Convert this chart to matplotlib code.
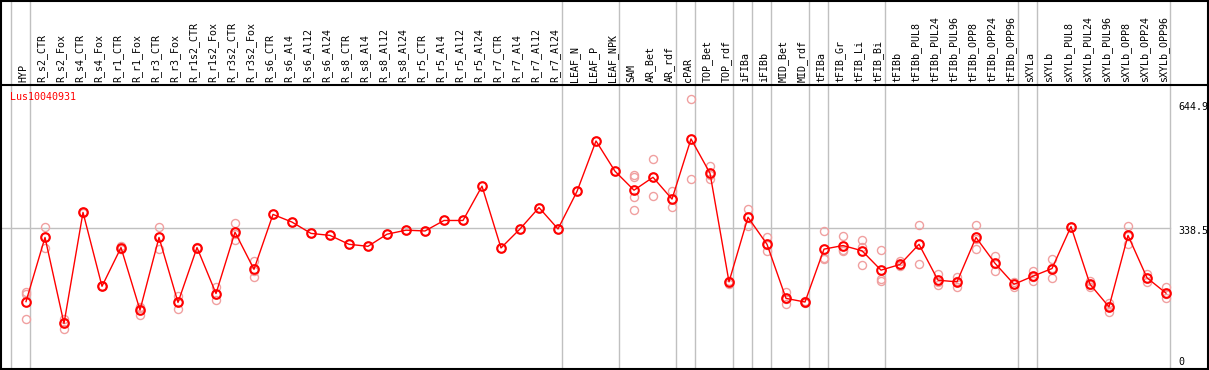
import matplotlib
matplotlib.use("Agg")
import matplotlib.pyplot as plt
from matplotlib.lines import Line2D

samples = ["HYP", "R_s2_CTR", "R_s2_Fox", "R_s4_CTR", "R_s4_Fox", "R_r1_CTR", "R_r1_Fox",
           "R_r3_CTR", "R_r3_Fox", "R_r1s2_CTR", "R_r1s2_Fox", "R_r3s2_CTR", "R_r3s2_Fox",
           "R_s6_CTR", "R_s6_Al4", "R_s6_Al12", "R_s6_Al24", "R_s8_CTR", "R_s8_Al4",
           "R_s8_Al12", "R_s8_Al24", "R_r5_CTR", "R_r5_Al4", "R_r5_Al12", "R_r5_Al24",
           "R_r7_CTR", "R_r7_Al4", "R_r7_Al12", "R_r7_Al24", "LEAF_N", "LEAF_P", "LEAF_NPK",
           "SAM", "AR_Bet", "AR_rdf", "cPAR", "TOP_Bet", "TOP_rdf", "iFIBa", "iFIBb",
           "MID_Bet", "MID_rdf", "tFIBa", "tFIB_Gr", "tFIB_Li", "tFIB_Bi", "tFIBb",
           "tFIBb_PUL8", "tFIBb_PUL24", "tFIBb_PUL96", "tFIBb_OPP8", "tFIBb_OPP24",
           "tFIBb_OPP96", "sXYLa", "sXYLb", "sXYLb_PUL8", "sXYLb_PUL24", "sXYLb_PUL96",
           "sXYLb_OPP8", "sXYLb_OPP24", "sXYLb_OPP96"]

means = [157, 316, 103, 378, 195, 291, 136, 316, 155, 291, 177, 329, 237,
         373, 354, 326, 321, 299, 294, 324, 334, 332, 358, 358, 443,
         290, 337, 390, 337, 430, 555, 480,
         433, 465, 411, 560, 475, 206, 366, 299,
         165, 156, 287, 296, 283, 235, 249,
         299, 210, 206, 316, 252, 200, 220, 239, 343, 200, 144, 321, 216, 178]

replicates = [[182, 175, 113], [341, 289, 318], [113, 90, 106], [380, 376, 378],
              [195, 195, 195], [296, 288, 288], [144, 124, 140], [343, 287, 318],
              [172, 138, 155], [291, 289, 293], [193, 162, 175], [352, 309, 325],
              [258, 219, 234], [373], [354], [326], [321], [299], [294], [324], [334],
              [332], [358], [358], [443], [290], [337], [390], [337], [430], [555], [480],
              [470, 466, 415, 383], [510, 418, 466], [430, 391, 412], [660, 460],
              [493, 461, 471], [208, 201, 207], [386, 344, 367], [317, 283, 297],
              [181, 150, 164], [156, 158, 154], [332, 266, 262], [320, 286, 283],
              [310, 247, 293], [285, 212, 208], [258, 244, 247], [348, 249, 300],
              [226, 197, 206], [218, 192, 207], [348, 287, 313], [271, 234, 251],
              [205, 194, 200], [232, 208, 219], [262, 216, 240], [343, 343, 343],
              [208, 194, 198], [154, 131, 146], [344, 300, 319], [225, 206, 216],
              [192, 165, 176]]

group_breaks = [-1, 0, 28, 31, 34, 35, 37, 38, 39, 41, 42, 45, 52, 53, 60]
gene = "Lus10040931"
scale_labels = ["644.9", "338.5", "0"]
scale_values = [644.9, 338.5, 0]

W, H = 1209, 370
fig = plt.figure(figsize=(W / 100, H / 100), dpi=100)

# plot area spans pixel rows 85..369, label strip 0..85
ax = fig.add_axes([0, 1 / H, 1, 284 / H])
axl = fig.add_axes([0, (H - 85) / H, 1, 85 / H])
x0 = -26 / 19
x1 = (W - 26) / 19
for a in (ax, axl):
    a.set_xlim(x0, x1)
    a.axis("off")
ax.set_ylim((365 - 369) / 0.4037, (365 - 85) / 0.4037)
axl.set_ylim(0, 1)

grey = "#c0c0c0"
for b in group_breaks:
    ax.axvline(b + 0.22, color=grey, lw=1, zorder=0)
    axl.axvline(b + 0.22, color=grey, lw=1, zorder=0)
ax.plot([x0, group_breaks[-1] + 0.22], [338.5, 338.5], color=grey, lw=1, zorder=0)

xs = list(range(len(samples)))
for i, reps in enumerate(replicates):
    ax.plot([i] * len(reps), reps, "o", ms=5.8, mfc="none", mec="#f0a0a0", mew=1.0, zorder=2)
ax.plot(xs, means, "-", color="red", lw=1, zorder=3)
ax.plot(xs, means, "o", ms=6.2, mfc="none", mec="red", mew=1.5, zorder=4)

mono = "DejaVu Sans Mono"
for i, s in enumerate(samples):
    axl.text(i - 0.15, 0.03, s, rotation=90, ha="center", va="bottom",
             fontsize=7.2, family=mono)

ax.text((10 - 26) / 19, (365 - 97) / 0.4037, gene, color="red", fontsize=7.2,
        family=mono, ha="left", va="center")
for lab, v in zip(scale_labels, scale_values):
    yv = v - 6 if v > 0 else v + 7
    ax.text((1178 - 26) / 19, yv, lab, fontsize=7.2, family=mono,
            ha="left", va="center")

# black frame and divider
k = "black"
fig.add_artist(Line2D([0, 1], [1 - 0.5 / H, 1 - 0.5 / H], color=k, lw=1.5))
fig.add_artist(Line2D([0, 1], [(H - 85) / H, (H - 85) / H], color=k, lw=1.5))
fig.add_artist(Line2D([0, 1], [1 / H, 1 / H], color=k, lw=1.5))
fig.add_artist(Line2D([0.8 / W, 0.8 / W], [0, 1], color=k, lw=1.5))
fig.add_artist(Line2D([1207.5 / W, 1207.5 / W], [0, 1], color=k, lw=1.5))

fig.savefig("out.png", dpi=100)
